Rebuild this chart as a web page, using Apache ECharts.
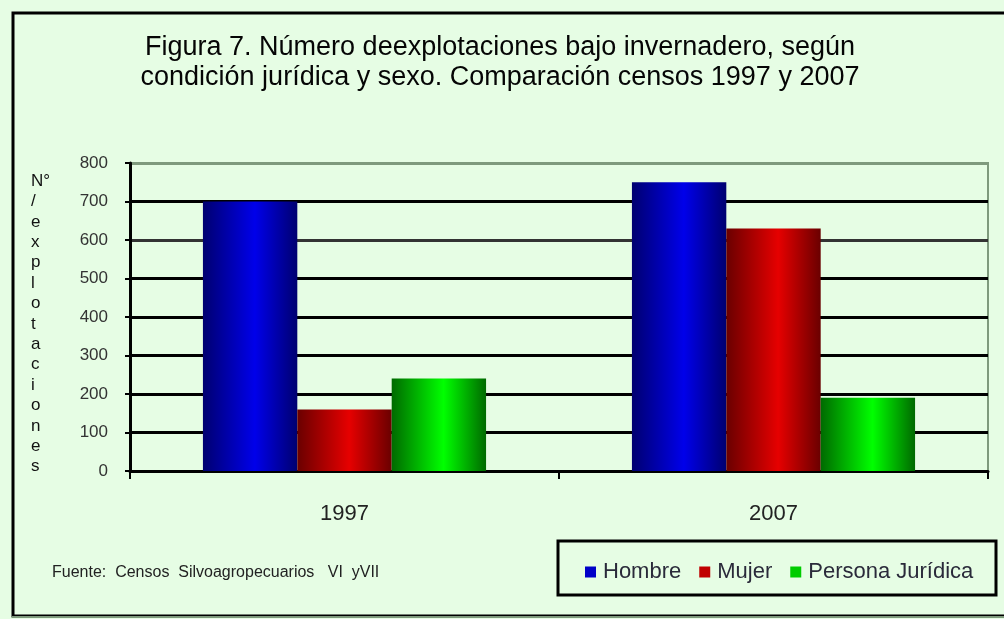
<!DOCTYPE html>
<html>
<head>
<meta charset="utf-8">
<script src="https://cdn.jsdelivr.net/npm/echarts@6/dist/echarts.min.js"></script>
<style>
  html, body { margin: 0; padding: 0; background: #e6fde4; }
  #chart { width: 1004px; height: 619px; }
</style>
</head>
<body>
<div id="chart"></div>
<script>
const years = ["1997", "2007"];
const hombre = [700, 750];
const mujer = [160, 630];
const juridica = [240, 190];
const yTicks = { min: 0, max: 800, interval: 100 };
const axisTitle = ["N°", "/", "e", "x", "p", "l", "o", "t", "a", "c", "i", "o", "n", "e", "s"];

// dark edges, bright middle: the old "cylinder" look
const shade = (dark, bright) => ({
  type: "linear", x: 0, y: 0, x2: 1, y2: 0,
  colorStops: [
    { offset: 0, color: dark },
    { offset: 0.55, color: bright },
    { offset: 1, color: dark },
  ],
});

const chart = echarts.init(document.getElementById("chart"));

chart.setOption({
  backgroundColor: "#e6fde4",
  animation: false,
  title: {
    text: "Figura 7. Número deexplotaciones bajo invernadero, según\ncondición jurídica y sexo. Comparación censos 1997 y 2007",
    left: 495,
    textAlign: "center",
    top: 28,
    textStyle: {
      fontFamily: "Liberation Sans, Arial",
      fontSize: 27,
      fontWeight: "normal",
      color: "#050505",
      lineHeight: 30,
    },
  },
  grid: {
    left: 130, right: 16, top: 163, bottom: 148,
    show: true, borderColor: "#7f9a7d", borderWidth: 2,
  },
  legend: {
    left: 580, top: 556,
    itemWidth: 11, itemHeight: 11, itemGap: 18,
    icon: "rect",
    textStyle: { fontFamily: "Liberation Sans, Arial", fontSize: 22, color: "#2a2a3a", padding: [0, 0, 0, 2] },
    data: [
      { name: "Hombre", itemStyle: { color: "#0000c8" } },
      { name: "Mujer", itemStyle: { color: "#c00000" } },
      { name: "Persona Jurídica", itemStyle: { color: "#00cc00" } },
    ],
  },
  xAxis: {
    type: "category",
    data: years,
    axisLine: { lineStyle: { color: "#000", width: 3 } },
    axisTick: { show: true, length: 8, lineStyle: { color: "#000", width: 2 } },
    axisLabel: { margin: 32, fontFamily: "Liberation Sans, Arial", fontSize: 22, color: "#222" },
  },
  yAxis: {
    type: "value",
    min: yTicks.min, max: yTicks.max, interval: yTicks.interval,
    axisLine: { show: true, lineStyle: { color: "#000", width: 3 } },
    axisTick: { show: true, length: 5, lineStyle: { color: "#000", width: 2 } },
    axisLabel: { margin: 22, fontFamily: "Liberation Sans, Arial", fontSize: 17, color: "#333" },
    splitLine: {
      lineStyle: {
        width: 3,
        color: ["#000", "#000", "#000", "#000", "#000", "#000", "#333", "#000", "#7f9a7d"],
      },
    },
  },
  graphic: [
    {
      type: "rect",
      shape: { x: 13, y: 13, width: 1010, height: 603 },
      style: { fill: "none", stroke: "#000", lineWidth: 3 },
      z: 0,
    },
    {
      type: "line",
      shape: { x1: 12, y1: 617, x2: 1004, y2: 617 },
      style: { stroke: "#7f9a7d", lineWidth: 2 },
    },
    {
      type: "text",
      left: 31, top: 171,
      style: {
        text: axisTitle.join("\n"),
        fontFamily: "Liberation Sans, Arial",
        fontSize: 17,
        lineHeight: 20.4,
        align: "center",
        fill: "#111",
      },
    },
    {
      type: "text",
      left: 52, top: 565,
      style: {
        text: "Fuente:  Censos  Silvoagropecuarios   VI  yVII",
        fontFamily: "Liberation Sans, Arial",
        fontSize: 16,
        fill: "#222",
      },
    },
    {
      type: "rect",
      shape: { x: 558, y: 541, width: 438, height: 54 },
      style: { fill: "none", stroke: "#000", lineWidth: 3 },
    },
  ],
  series: [
    {
      name: "Hombre", type: "bar", data: hombre,
      barGap: "0%", barCategoryGap: "34%",
      itemStyle: { color: shade("#000070", "#0000ea") },
    },
    {
      name: "Mujer", type: "bar", data: mujer,
      itemStyle: { color: shade("#6a0000", "#e60000") },
    },
    {
      name: "Persona Jurídica", type: "bar", data: juridica,
      itemStyle: { color: shade("#006a00", "#00ff00") },
    },
  ],
});
</script>
</body>
</html>
